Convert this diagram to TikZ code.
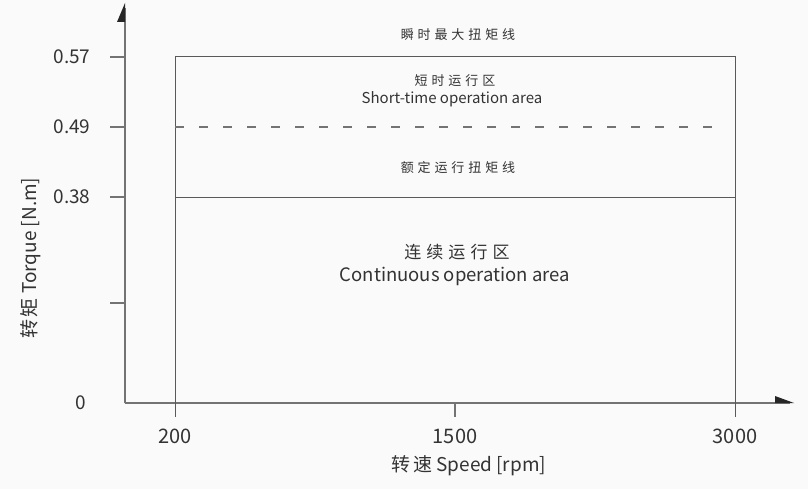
\documentclass[tikz,border=0pt]{standalone}
\usepackage{fontspec}
\setmainfont{Noto Sans CJK SC}
\newfontfamily\cjksp[LetterSpace=30]{Noto Sans CJK SC}
\newfontfamily\cjkax[LetterSpace=12]{Noto Sans CJK SC}
\begin{document}
\begin{tikzpicture}[x=1pt,y=-1pt,
  ln/.style={draw=black!55,line width=1.1pt},
  fr/.style={draw=black!65,line width=0.9pt},
  lab/.style={text=black!80,font=\fontsize{19}{19}\selectfont},
  small/.style={text=black!80,font=\fontsize{15}{15}\selectfont,align=center}]
\useasboundingbox[fill=black!2] (0,0) rectangle (808,489);
% axes
\coordinate (O) at (125,403);
\draw[ln] (O) -- (125,8);
\draw[ln] (O) -- (790,403);
\fill[black!85] (125,3) -- (125,22) -- (117,22) -- cycle;
\fill[black!85] (794,403) -- (775,403) -- (775,396) -- cycle;
% y ticks
\foreach \y in {57,127,197,303} \draw[ln] (110,\y) -- (125,\y);
\node[lab,anchor=east] (l057) at (94,57) {0.57};
\node[lab,anchor=east] (l049) at (94,127) {0.49};
\node[lab,anchor=east] (l038) at (94,197) {0.38};
\node[lab,anchor=east] (l0) at (90,403) {0};
% x ticks
\draw[fr] (175,56) -- (175,417);
\draw[fr] (735,56) -- (735,417);
\draw[ln] (455,403) -- (455,417);
\draw[fr] (175,56) -- (735,56);
\draw[fr] (175,197) -- (735,197);
\draw[black!55,line width=1.1pt,dash pattern=on 9pt off 15pt] (175,127) -- (715,127);
\node[lab,font=\fontsize{20}{20}\selectfont] (x200) at (175,436) {200};
\node[lab,font=\fontsize{20}{20}\selectfont] (x1500) at (455,436) {1500};
\node[lab,font=\fontsize{20}{20}\selectfont] (x3000) at (735,436) {3000};
% titles
\node[lab] (xt) at (469,466) {{\cjkax 转速} Speed [rpm]};
\node[lab,rotate=90] (yt) at (31,258) {{\cjkax 转矩} Torque [N.m]};
% labels
\node[small] (a) at (458,35) {\fontsize{13}{13}\selectfont\cjksp 瞬时最大扭矩线};
\node[small] (b1) at (455,81) {\fontsize{13}{13}\selectfont\cjksp 短时运行区};
\node[small] (b2) at (452,99) {Short-time operation area};
\node[small] (c) at (458,168) {\fontsize{13}{13}\selectfont\cjksp 额定运行扭矩线};
\node[lab,font=\fontsize{17}{17}\selectfont\cjksp] (d1) at (457,252) {连续运行区};
\node[lab,font=\fontsize{18.5}{18.5}\selectfont] (d2) at (455,276) {Continuous operation area};
\end{tikzpicture}
\end{document}
